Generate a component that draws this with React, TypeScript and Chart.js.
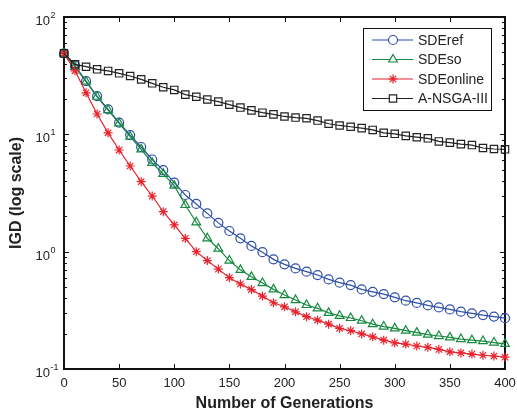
import React, { useEffect, useRef } from 'react';
import { Chart, registerables } from 'chart.js';
import { drawPoint } from 'chart.js/helpers';

Chart.register(...registerables);

const FONT = "'Liberation Sans', Arial, Helvetica, sans-serif";

const generations = [
  0, 10, 20, 30, 40, 50, 60, 70, 80, 90, 100, 110, 120, 130, 140, 150, 160, 170, 180, 190, 200,
  210, 220, 230, 240, 250, 260, 270, 280, 290, 300, 310, 320, 330, 340, 350, 360, 370, 380, 390, 400,
];

const sdeRef = [
  49, 38.5, 28.4, 21.2, 16.3, 12.6, 9.86, 7.8, 6.1, 4.96, 3.87, 3.04, 2.55, 2.12, 1.76, 1.5, 1.3, 1.12, 0.99, 0.86, 0.78,
  0.72, 0.675, 0.632, 0.58, 0.544, 0.519, 0.477, 0.455, 0.435, 0.408, 0.382, 0.366, 0.348, 0.335, 0.322, 0.308, 0.298, 0.288, 0.28, 0.271,
];

const sdeSo = [
  49, 37.5, 28.1, 20.9, 16.1, 12.4, 9.55, 7.45, 5.7, 4.6, 3.65, 2.5, 1.78, 1.3, 1.06, 0.84, 0.7, 0.61, 0.54, 0.477, 0.427,
  0.387, 0.351, 0.329, 0.301, 0.284, 0.272, 0.258, 0.241, 0.23, 0.222, 0.212, 0.204, 0.196, 0.191, 0.186, 0.18, 0.176, 0.173, 0.168, 0.164,
];

const sdeOnline = [
  49, 34.8, 22.6, 14.9, 10.3, 7.35, 5.37, 3.95, 2.98, 2.19, 1.69, 1.3, 1.0, 0.84, 0.71, 0.6, 0.53, 0.475, 0.418, 0.367, 0.339,
  0.307, 0.279, 0.261, 0.241, 0.222, 0.212, 0.199, 0.188, 0.176, 0.167, 0.163, 0.157, 0.153, 0.147, 0.14, 0.137, 0.134, 0.131, 0.129, 0.126,
];

const aNsga3 = [
  49, 39.5, 37.7, 35.8, 34.7, 33.1, 31.4, 29.4, 27.2, 25.2, 23.9, 21.8, 20.9, 19.8, 19.0, 17.9, 16.9, 16.0, 15.3, 14.8, 14.2,
  13.9, 13.7, 13.1, 12.3, 11.9, 11.6, 11.3, 10.9, 10.3, 10.1, 9.7, 9.45, 9.25, 8.7, 8.5, 8.25, 8.1, 7.65, 7.5, 7.45,
];

const seriesLabels = ['SDEref', 'SDEso', 'SDEonline', 'A-NSGA-III'];
const seriesColors = ['#2f4fa8', '#15893f', '#e8232d', '#222222'];
const seriesMarkers = ['circle', 'triangle', 'star', 'rect'];
const seriesRadius = [4.5, 5, 4.5, 5.2];
const seriesValues = [sdeRef, sdeSo, sdeOnline, aNsga3];

const xTicks = [0, 50, 100, 150, 200, 250, 300, 350, 400];
const yExponents = [-1, 0, 1, 2];

const axesPlugin = {
  id: 'matlabAxes',
  beforeDatasetsDraw(chart: any) {
    const { ctx, chartArea } = chart;
    const { left, right, top, bottom } = chartArea;
    const xs = chart.scales.x;
    const ys = chart.scales.y;
    ctx.save();
    ctx.strokeStyle = '#111';
    ctx.lineWidth = 1;
    ctx.beginPath();
    xTicks.forEach((v) => {
      const x = Math.round(xs.getPixelForValue(v)) + 0.5;
      ctx.moveTo(x, bottom);
      ctx.lineTo(x, bottom - 5);
      ctx.moveTo(x, top);
      ctx.lineTo(x, top + 5);
    });
    yExponents.forEach((e) => {
      for (let m = 1; m <= 9; m++) {
        const v = m * Math.pow(10, e);
        if (v > 100.0001) break;
        const y = Math.round(ys.getPixelForValue(v)) + 0.5;
        const len = m === 1 ? 5 : 3;
        ctx.moveTo(left, y);
        ctx.lineTo(left + len, y);
        ctx.moveTo(right, y);
        ctx.lineTo(right - len, y);
      }
    });
    ctx.stroke();
    ctx.lineWidth = 2;
    ctx.strokeRect(left, top, right - left, bottom - top);

    // y tick labels: 10 with exponent
    ctx.fillStyle = '#222';
    yExponents.forEach((e) => {
      const y = ys.getPixelForValue(Math.pow(10, e));
      ctx.font = `13px ${FONT}`;
      ctx.textAlign = 'right';
      ctx.textBaseline = 'alphabetic';
      ctx.fillText('10', 50, y + 8);
      ctx.font = `9px ${FONT}`;
      ctx.textAlign = 'left';
      ctx.fillText(String(e), 50.5, y + 1);
    });
    ctx.restore();
  },
};

const legendPlugin = {
  id: 'boxLegend',
  afterDraw(chart: any) {
    const { ctx } = chart;
    const bx = 363;
    const by = 28;
    const bw = 128;
    const bh = 82;
    ctx.save();
    ctx.fillStyle = '#fff';
    ctx.fillRect(bx, by, bw, bh);
    ctx.strokeStyle = '#111';
    ctx.lineWidth = 1;
    ctx.strokeRect(bx + 0.5, by + 0.5, bw, bh);
    seriesLabels.forEach((label, i) => {
      const y = by + 12 + i * 19.5;
      ctx.strokeStyle = seriesColors[i];
      ctx.lineWidth = 1.2;
      ctx.beginPath();
      ctx.moveTo(372, y);
      ctx.lineTo(413, y);
      ctx.stroke();
      ctx.fillStyle = '#ffffff';
      drawPoint(ctx, { pointStyle: seriesMarkers[i], radius: seriesRadius[i], borderWidth: 1.2, rotation: 0 } as any, 393, y);
      ctx.fillStyle = '#222';
      ctx.font = `14px ${FONT}`;
      ctx.textAlign = 'left';
      ctx.textBaseline = 'middle';
      ctx.fillText(label, 418, y + 1);
    });
    ctx.restore();
  },
};

export default function App() {
  const canvasRef = useRef<HTMLCanvasElement | null>(null);

  useEffect(() => {
    document.body.style.margin = '0';
    const canvas = canvasRef.current;
    if (!canvas) return;
    const datasets = seriesLabels.map((label, i) => ({
      label,
      data: generations.map((g, j) => ({ x: g, y: seriesValues[i][j] })),
      borderColor: seriesColors[i],
      backgroundColor: 'rgba(0,0,0,0)',
      borderWidth: 1.2,
      pointStyle: seriesMarkers[i],
      pointRadius: seriesRadius[i],
      pointBorderWidth: 1.2,
      pointBorderColor: seriesColors[i],
      pointBackgroundColor: 'rgba(0,0,0,0)',
      tension: 0,
      fill: false,
      clip: false as any,
      order: 3 - i,
    }));
    const chart = new Chart(canvas, {
      type: 'line',
      data: { datasets },
      options: {
        animation: false,
        responsive: false,
        events: [],
        layout: { padding: { top: 17, right: 12, left: 0, bottom: 0 } },
        plugins: { legend: { display: false }, tooltip: { enabled: false } },
        scales: {
          x: {
            type: 'linear',
            min: 0,
            max: 400,
            afterBuildTicks: (s: any) => {
              s.ticks = xTicks.map((v) => ({ value: v }));
            },
            grid: { display: false },
            border: { display: false },
            ticks: { font: { size: 13, family: FONT }, color: '#222', padding: -1, maxRotation: 0, autoSkip: false },
            title: {
              display: true,
              text: 'Number of Generations',
              font: { size: 16, weight: 'bold', family: FONT },
              color: '#222',
              padding: { top: 0, bottom: 3 },
            },
            afterFit: (s: any) => {
              s.height = 47;
            },
          },
          y: {
            type: 'logarithmic',
            min: 0.1,
            max: 100,
            ticks: { display: false },
            grid: { display: false },
            border: { display: false },
            title: {
              display: true,
              text: 'IGD (log scale)',
              font: { size: 16, weight: 'bold', family: FONT },
              color: '#222',
              padding: { top: 7, bottom: 0 },
            },
            afterFit: (s: any) => {
              s.width = 64;
            },
          },
        },
      } as any,
      plugins: [axesPlugin, legendPlugin],
    });
    return () => chart.destroy();
  }, []);

  return (
    <div style={{ position: 'fixed', left: 0, top: 0, width: 517, height: 416, background: '#fff' }}>
      <canvas ref={canvasRef} width={517} height={416} style={{ display: 'block' }} />
    </div>
  );
}
